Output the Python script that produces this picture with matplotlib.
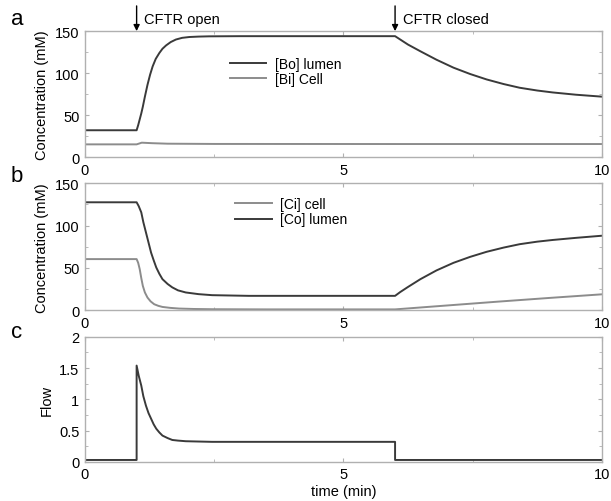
import numpy as np
import matplotlib
matplotlib.use("Agg")
from matplotlib import pyplot as plt
from matplotlib.ticker import MultipleLocator

plt.rcParams['font.family'] = ['Liberation Sans', 'DejaVu Sans']

# panel a: bicarbonate (mM)
t_bo = [0, 1.0, 1.03, 1.06, 1.09, 1.12, 1.16, 1.21, 1.26, 1.31, 1.37, 1.44, 1.5, 1.57,
        1.66, 1.76, 1.88, 2.02, 2.2, 2.4, 3.0, 4.0, 5.0, 6.0,
        6.1, 6.25, 6.49, 6.8, 7.13, 7.45, 7.77, 8.1, 8.41, 8.75, 9.05, 9.5, 10.0]
bo = [32, 32, 38, 45, 52, 60, 72, 86, 98, 108, 117, 124, 129, 133,
      137, 140, 142, 143, 143.5, 143.8, 144, 144, 144, 144,
      140, 134, 126, 116, 106.5, 99, 92.5, 87, 82.6, 79.3, 77, 74.3, 72]
t_bi = [0, 1.0, 1.1, 1.3, 1.6, 2.5, 6.0, 10.0]
bi = [15.2, 15.2, 17.2, 16.6, 16.0, 15.7, 15.6, 15.6]

# panel b: chloride (mM)
t_co = [0, 1.0, 1.04, 1.09, 1.13, 1.18, 1.23, 1.28, 1.33, 1.38, 1.44, 1.5, 1.6, 1.69,
        1.8, 1.95, 2.2, 2.46, 3.17, 4.0, 5.0, 6.0,
        6.1, 6.25, 6.49, 6.8, 7.13, 7.45, 7.77, 8.1, 8.41, 8.75, 9.05, 9.5, 10.0]
co = [127.5, 127.5, 123, 115.6, 104, 92, 80, 68, 59, 50.5, 43, 36.7, 31, 27,
      23.5, 21, 19, 17.8, 17, 17, 17, 17,
      21.5, 27.5, 36.7, 47, 56, 63, 69, 74, 78, 81, 83, 85.5, 88]
t_ci = [0, 1.0, 1.03, 1.06, 1.09, 1.12, 1.16, 1.21, 1.27, 1.34, 1.42, 1.5, 1.65, 1.82,
        2.1, 2.46, 3.5, 5.0, 6.0, 7.0, 8.0, 9.0, 10.0]
ci = [60.4, 60.4, 56, 48.5, 38, 28.8, 21, 15, 10.5, 7.1, 5.2, 3.9, 2.8, 2.0,
      1.5, 1.2, 1.0, 1.0, 1.0, 5.6, 10.2, 14.6, 18.8]

# panel c: flow
t_fl = [0, 1.0, 1.0, 1.04, 1.09, 1.13, 1.18, 1.23, 1.28, 1.33, 1.38, 1.44, 1.5, 1.6,
        1.69, 1.8, 1.95, 2.2, 2.46, 3.0, 4.0, 5.0, 6.0, 6.0, 10.0]
flow = [0.03, 0.03, 1.54, 1.38, 1.22, 1.05, 0.90, 0.78, 0.69, 0.60, 0.53, 0.47, 0.42, 0.38,
        0.35, 0.34, 0.33, 0.325, 0.32, 0.32, 0.32, 0.32, 0.32, 0.03, 0.03]

dark = '#3a3a3a'
light = '#8c8c8c'
frame = '#b0b0b0'

fig = plt.figure(figsize=(6.11, 5.02), dpi=100)
left, width = 0.139, 0.846
ax_a = fig.add_axes([left, 0.685, width, 0.251])
ax_b = fig.add_axes([left, 0.380, width, 0.253])
ax_c = fig.add_axes([left, 0.078, width, 0.249])


def style(ax, ymax, ymajor, yminor):
    ax.set_xlim(0, 10)
    ax.set_ylim(0, ymax)
    ax.set_xticks([0, 5, 10])
    ax.set_xticklabels(['0', '5', '10'])
    ax.xaxis.set_minor_locator(MultipleLocator(2.5))
    ax.yaxis.set_major_locator(MultipleLocator(ymajor))
    ax.yaxis.set_minor_locator(MultipleLocator(yminor))
    ax.tick_params(which='both', direction='in', top=True, right=True,
                   color=frame, labelsize=10.5, pad=4)
    ax.tick_params(which='major', length=3)
    ax.tick_params(which='minor', length=2)
    for sp in ax.spines.values():
        sp.set_color(frame)
        sp.set_linewidth(1.0)


style(ax_a, 150, 50, 25)
ax_a.plot(t_bo, bo, color=dark, lw=1.4, label='[Bo] lumen')
ax_a.plot(t_bi, bi, color=light, lw=1.4, label='[Bi] Cell')
ax_a.set_ylabel('Concentration (mM)', fontsize=10.5)
ax_a.legend(loc='upper left', bbox_to_anchor=(0.257, 0.895), frameon=False,
            fontsize=10, handlelength=2.6, handletextpad=0.6, labelspacing=0.1)

style(ax_b, 150, 50, 25)
ax_b.plot(t_ci, ci, color=light, lw=1.4, label='[Ci] cell')
ax_b.plot(t_co, co, color=dark, lw=1.4, label='[Co] lumen')
ax_b.set_ylabel('Concentration (mM)', fontsize=10.5)
ax_b.legend(loc='upper left', bbox_to_anchor=(0.267, 0.99), frameon=False,
            fontsize=10, handlelength=2.6, handletextpad=0.6, labelspacing=0.1)

style(ax_c, 2, 0.5, 0.25)
ax_c.plot(t_fl, flow, color=dark, lw=1.4)
ax_c.set_yticks([0, 0.5, 1, 1.5, 2])
ax_c.set_yticklabels(['0', '0.5', '1', '1.5', '2'])
ax_c.set_ylabel('Flow', fontsize=10.5)
ax_c.set_xlabel('time (min)', fontsize=10.5, labelpad=2)

# CFTR arrows
for tx, txt in [(1.0, 'CFTR open'), (6.0, 'CFTR closed')]:
    ax_a.annotate('', xy=(tx, 150), xytext=(tx, 150 + 30), xycoords='data',
                  arrowprops=dict(arrowstyle='-|>', color='black', lw=1.0,
                                  mutation_scale=9, shrinkA=0, shrinkB=0),
                  annotation_clip=False)
    ax_a.text(tx + 0.15, 165, txt, fontsize=10.5, va='center', ha='left',
              clip_on=False)

for lab, y in [('a', 0.962), ('b', 0.648), ('c', 0.338)]:
    fig.text(0.018, y, lab, fontsize=16, va='center', ha='left')

fig.savefig('out.png', dpi=100)
